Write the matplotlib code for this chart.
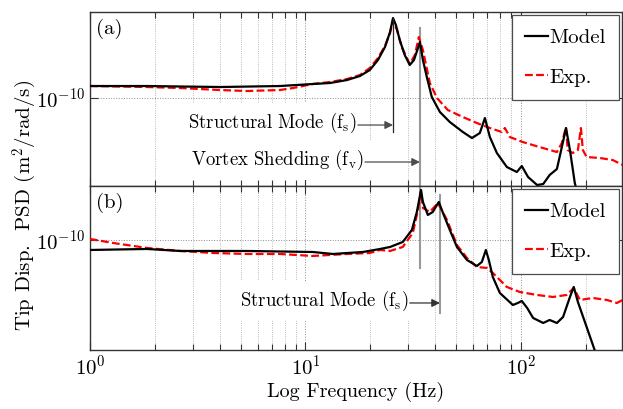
import matplotlib
matplotlib.use("Agg")
import matplotlib.pyplot as plt
import matplotlib.ticker as mticker
import numpy as np

plt.rcParams["font.family"] = "cmr10"
plt.rcParams["mathtext.fontset"] = "cm"
plt.rcParams["axes.formatter.use_mathtext"] = True

# ---- panel (a) ----
freq_a_model = [1.0, 1.84, 4.01, 7.62, 10.8, 13.0, 15.6, 17.9, 19.9, 21.7, 23.4, 24.7,
                25.5, 26.3, 27.4, 28.9, 30.5, 31.9, 33.3, 34.0, 35.1, 36.6, 38.6, 42.1,
                46.8, 53.8, 59.3, 64.5, 68.1, 71.8, 77.4, 86.1, 95.8, 101, 108, 119, 127,
                136, 147, 155, 162, 169, 178, 184]
logpsd_a_model = [-9.88, -9.88, -9.89, -9.88, -9.86, -9.85, -9.82, -9.78, -9.72, -9.62, -9.49, -9.34,
                  -9.20, -9.27, -9.42, -9.57, -9.67, -9.62, -9.50, -9.44, -9.62, -9.79, -9.99, -10.14,
                  -10.24, -10.34, -10.40, -10.35, -10.20, -10.39, -10.55, -10.69, -10.74, -10.68, -10.79, -10.87, -10.86,
                  -10.77, -10.71, -10.49, -10.30, -10.52, -10.85, -10.97]

freq_a_exp = [1.0, 1.84, 2.62, 4.01, 5.35, 7.62, 8.75, 10.8, 13.0, 15.6, 17.9, 19.9, 21.7,
              23.4, 24.7, 25.5, 26.6, 28.0, 30.5, 32.2, 33.6, 35.1, 37.8, 40.8, 45.8, 53.8,
              62.5, 71.8, 81.6, 84.3, 88.9, 102, 122, 147, 155, 162, 165, 174, 184, 190,
              194, 202, 233, 267, 297]
logpsd_a_exp = [-9.88, -9.89, -9.90, -9.92, -9.93, -9.92, -9.90, -9.86, -9.84, -9.81, -9.77, -9.70, -9.60,
                -9.48, -9.35, -9.22, -9.32, -9.49, -9.66, -9.57, -9.39, -9.52, -9.85, -10.00, -10.12, -10.19,
                -10.25, -10.30, -10.34, -10.30, -10.39, -10.44, -10.49, -10.54, -10.45, -10.29, -10.52, -10.55, -10.52, -10.30,
                -10.52, -10.59, -10.60, -10.62, -10.67]

# ---- panel (b) ----
freq_b_model = [1.0, 1.84, 2.62, 5.35, 10.8, 13.4, 18.5, 22.2, 24.7, 28.3, 31.2, 32.9,
                34.4, 35.1, 37.0, 39.0, 41.6, 43.5, 46.8, 50.5, 56.2, 62.5, 65.9, 68.8,
                71.0, 74.1, 79.9, 91.8, 96.8, 101, 107, 114, 127, 136, 147, 157, 169,
                176, 184, 202, 220, 233]
logpsd_b_model = [-10.10, -10.09, -10.11, -10.11, -10.12, -10.14, -10.12, -10.09, -10.07, -10.02, -9.90, -9.72,
                  -9.50, -9.62, -9.75, -9.72, -9.62, -9.73, -9.90, -10.07, -10.20, -10.26, -10.22, -10.10,
                  -10.20, -10.37, -10.53, -10.65, -10.63, -10.61, -10.68, -10.78, -10.83, -10.80, -10.83, -10.77, -10.57,
                  -10.47, -10.62, -10.87, -11.10, -11.22]

freq_b_exp = [1.0, 1.28, 1.84, 2.62, 3.72, 5.35, 7.62, 10.8, 15.6, 19.9, 22.2, 24.7,
              28.3, 31.5, 33.3, 34.4, 35.1, 37.8, 41.2, 45.4, 50.5, 56.2, 62.5, 69.6,
              74.1, 86.1, 98.9, 119, 141, 163, 176, 188, 216, 251, 279, 297]
logpsd_b_exp = [-9.99, -10.03, -10.08, -10.11, -10.13, -10.14, -10.14, -10.16, -10.14, -10.13, -10.10, -10.11,
                -10.07, -9.93, -9.70, -9.52, -9.68, -9.72, -9.63, -9.80, -10.05, -10.18, -10.27, -10.28,
                -10.33, -10.47, -10.52, -10.55, -10.57, -10.55, -10.48, -10.60, -10.58, -10.60, -10.63, -10.60]

# marked frequencies (Hz)
fs_a, fv_a = 25.5, 34.0
fv_b, fs_b = 34.0, 42.1

fig = plt.figure(figsize=(6.23, 4.09), dpi=100)
ax1 = fig.add_axes([0.1445, 0.5452, 0.854, 0.4254])
ax2 = fig.add_axes([0.1445, 0.1443, 0.854, 0.4010])

fs = 15


def style(ax, ylim):
    ax.set_xscale("log")
    ax.set_yscale("log")
    ax.set_xlim(1, 295)
    ax.set_ylim(*ylim)
    ax.yaxis.set_major_locator(mticker.FixedLocator([1e-10]))
    ax.yaxis.set_minor_locator(mticker.NullLocator())
    ax.xaxis.set_minor_locator(mticker.LogLocator(base=10, subs=np.arange(2, 10)))
    ax.xaxis.set_minor_formatter(mticker.NullFormatter())
    ax.grid(True, which="major", axis="both", ls=":", color="0.55", lw=0.7)
    ax.grid(True, which="minor", axis="x", ls=":", color="0.65", lw=0.6)
    ax.tick_params(which="both", direction="in", top=True, right=True, labelsize=fs,
                   color="0.2", width=0.8)
    ax.tick_params(which="major", length=6)
    ax.tick_params(which="minor", length=4)
    for s in ax.spines.values():
        s.set_color("0.2")
        s.set_linewidth(1.0)


style(ax1, (10 ** -10.88, 10 ** -9.14))
style(ax2, (10 ** -11.10, 10 ** -9.46))
ax1.tick_params(labelbottom=False)

for ax, fm, pm, fe, pe in [(ax1, freq_a_model, logpsd_a_model, freq_a_exp, logpsd_a_exp),
                           (ax2, freq_b_model, logpsd_b_model, freq_b_exp, logpsd_b_exp)]:
    ax.plot(fm, 10.0 ** np.array(pm), color="k", lw=1.6, label="Model", zorder=4)
    ax.plot(fe, 10.0 ** np.array(pe), color="r", lw=1.6, ls=(0, (3.5, 1.5)), label="Exp.", zorder=3)
    ax.legend(loc="upper right", fontsize=fs, frameon=True, fancybox=False, framealpha=1,
              edgecolor="0.3", handlelength=1.1, handletextpad=0.05, borderpad=0.65,
              labelspacing=1.0, borderaxespad=0.15).get_frame().set_linewidth(0.9)

ax1.text(0.012, 0.96, "(a)", transform=ax1.transAxes, fontsize=fs, va="top", ha="left")
ax2.text(0.012, 0.96, "(b)", transform=ax2.transAxes, fontsize=fs, va="top", ha="left")

# panel (a) markers
ax1.plot([fs_a, fs_a], [10 ** -9.20, 10 ** -10.34], color="0.15", lw=0.9, zorder=5)
ax1.plot([fv_a, fv_a], [10 ** -9.30, 10 ** -10.88], color="0.6", lw=1.5, zorder=2)
box = dict(facecolor="white", edgecolor="none", pad=6)
ax1.annotate("", xy=(fs_a, 10 ** -10.27), xytext=(17.5, 10 ** -10.27),
             arrowprops=dict(arrowstyle="-|>", color="0.3", lw=0.9, mutation_scale=12,
                             shrinkA=0, shrinkB=0), zorder=5)
ax1.text(17.3, 10 ** -10.25, r"Structural Mode (f$_{\rm s}$)", fontsize=13.5,
         ha="right", va="center", bbox=box, zorder=3)
ax1.annotate("", xy=(fv_a, 10 ** -10.64), xytext=(18.9, 10 ** -10.64),
             arrowprops=dict(arrowstyle="-|>", color="0.3", lw=0.9, mutation_scale=12,
                             shrinkA=0, shrinkB=0), zorder=5)
ax1.text(18.7, 10 ** -10.62, r"Vortex Shedding (f$_{\rm v}$)", fontsize=13.5,
         ha="right", va="center", bbox=box, zorder=3)

# panel (b) markers
ax2.plot([fv_b, fv_b], [10 ** -9.46, 10 ** -10.28], color="0.6", lw=1.5, zorder=2)
ax2.plot([fs_b, fs_b], [10 ** -9.55, 10 ** -10.73], color="0.6", lw=1.5, zorder=2)
ax2.annotate("", xy=(fs_b, 10 ** -10.63), xytext=(30.5, 10 ** -10.63),
             arrowprops=dict(arrowstyle="-|>", color="0.2", lw=0.9, mutation_scale=12,
                             shrinkA=0, shrinkB=0), zorder=5)
ax2.text(30.2, 10 ** -10.61, r"Structural Mode (f$_{\rm s}$)", fontsize=13.5,
         ha="right", va="center", bbox=box, zorder=3)

ax2.set_xlabel("Log Frequency (Hz)", fontsize=14.5, labelpad=2)
fig.text(0.04, 1 - 205 / 409, r"Tip Disp.  PSD (m$^2$/rad/s)", rotation=90,
         fontsize=15, ha="center", va="center")

fig.savefig("out.png", dpi=100)
